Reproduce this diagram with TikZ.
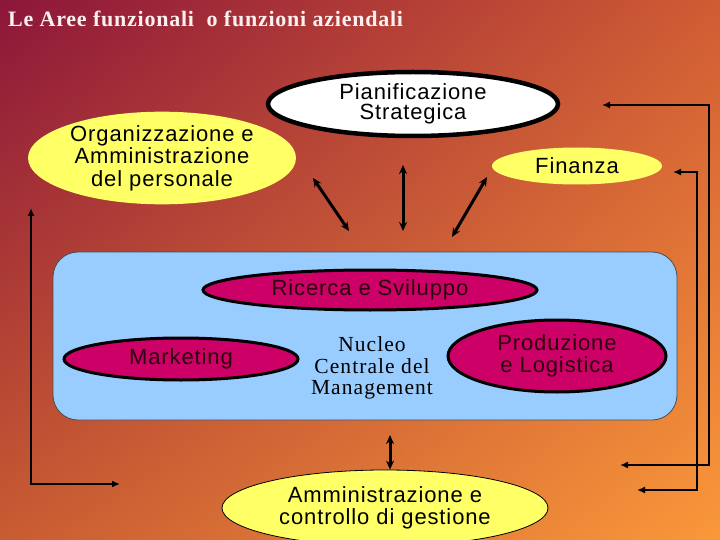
\documentclass[tikz,border=0pt]{standalone}
\usepackage{fontspec}
\setmainfont{Liberation Serif}
\newfontfamily\arialsp{Liberation Sans}[LetterSpace=4]
\newfontfamily\timessp{Liberation Serif}[LetterSpace=5]
\newfontfamily\titlesp{Liberation Serif}[LetterSpace=3.5]
\usetikzlibrary{shapes.geometric,arrows.meta,shadings}
\definecolor{bgUL}{RGB}{140,22,58}
\definecolor{bgUR}{RGB}{208,92,52}
\definecolor{bgLL}{RGB}{200,92,50}
\definecolor{bgLR}{RGB}{250,152,58}
\definecolor{yel}{RGB}{255,255,102}
\definecolor{mag}{RGB}{204,0,102}
\definecolor{lblue}{RGB}{153,204,255}
\definecolor{titlec}{RGB}{255,240,240}
\definecolor{darktext}{RGB}{40,0,10}
\tikzset{
  sans/.style={font=\arialsp\fontsize{22}{22.5}\selectfont, align=center},
  serif/.style={font=\timessp\fontsize{21.5}{21.5}\selectfont, align=center},
  yelell/.style={ellipse, fill=yel, inner sep=0pt, sans},
  magell/.style={ellipse, fill=mag, draw=black, line width=3pt, inner sep=0pt, sans, text=darktext},
  dbl/.style={line width=3pt, {Stealth[length=9pt,width=8pt]}-{Stealth[length=9pt,width=8pt]}},
  conn/.style={line width=2.2pt, {Latex[length=8pt,width=7pt]}-{Latex[length=8pt,width=7pt]}}
}
\begin{document}
\begin{tikzpicture}[x=1pt,y=-1pt]
\useasboundingbox (0,0) rectangle (720,540);
\shade[upper left=bgUL, upper right=bgUR, lower left=bgLL, lower right=bgLR] (0,0) rectangle (720,540);

\node[anchor=base west, text=titlec, font=\titlesp\bfseries\fontsize{22}{22}\selectfont, inner sep=0pt] (title) at (8,27) {Le Aree funzionali\ \ o funzioni aziendali};

\node[yelell, minimum width=268pt, minimum height=92pt] (org) at (162,158) {Organizzazione e\\Amministrazione\\del personale};
\node[ellipse, fill=white, draw=black, line width=4.5pt, inner sep=0pt, sans, minimum width=290pt, minimum height=64pt] (pian) at (413,104) {Pianificazione\\[-2pt]Strategica};
\node[yelell, minimum width=170pt, minimum height=37pt] (fin) at (577,166) {Finanza};

\node[draw=black!70, line width=0.8pt, fill=lblue, rounded corners=25pt, minimum width=624pt, minimum height=168pt, inner sep=0pt] (core) at (365,336) {};

\node[magell, minimum width=334pt, minimum height=40pt] (rs) at (370,290) {Ricerca e Sviluppo};
\node[magell, minimum width=234pt, minimum height=42pt] (mkt) at (181,359) {Marketing};
\node[magell, minimum width=218pt, minimum height=72pt] (prod) at (557,356) {Produzione\\e Logistica};
\node[serif] (nucleo) at (372,368) {Nucleo\\Centrale del\\Management};

\node[yelell, draw=black, line width=0.8pt, minimum width=326pt, minimum height=76pt] (amm) at (385,508) {Amministrazione e\\controllo di gestione};

% double arrows
\coordinate (a1s) at (313,178); \coordinate (a1e) at (349,231);
\coordinate (a2s) at (403,165); \coordinate (a2e) at (403,231);
\coordinate (a3s) at (487,177); \coordinate (a3e) at (452,237);
\coordinate (a4s) at (390,435);
\draw[dbl] (a1s) -- (a1e);
\draw[dbl] (a2s) -- (a2e);
\draw[dbl] (a3s) -- (a3e);
\draw[dbl] (a4s) -- (a4s |- amm.north);

% bracket connectors
\coordinate (L1) at (31,208); \coordinate (L2) at (120,484);
\draw[conn] (L1) |- (L2);
\coordinate (R1) at (602,105); \coordinate (R1b) at (709,105); \coordinate (R2) at (620,465);
\draw[conn] (R1) -- (R1b) |- (R2);
\coordinate (Q1) at (673,172); \coordinate (Q1b) at (697,172); \coordinate (Q2) at (637,490);
\draw[conn] (Q1) -- (Q1b) |- (Q2);
\end{tikzpicture}
\end{document}
